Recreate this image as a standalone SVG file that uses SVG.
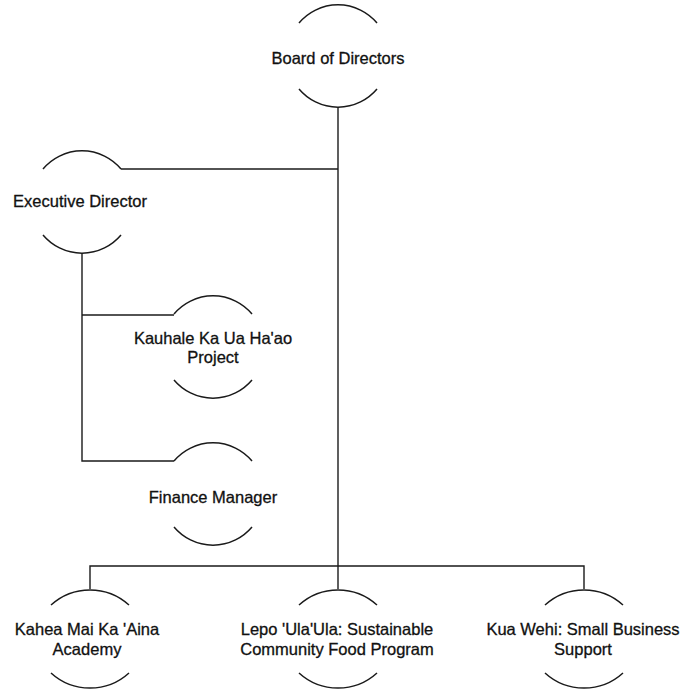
<svg xmlns="http://www.w3.org/2000/svg" width="680" height="694" viewBox="0 0 680 694">
<style>
  .arc { fill: none; stroke: #1a1a1a; stroke-width: 1.5; }
  .conn { fill: none; stroke: #1a1a1a; stroke-width: 1.4; }
  .lbl { font-family: "Liberation Sans", Arial, sans-serif; font-size: 16.5px; fill: #111; stroke: #111; stroke-width: 0.3; text-anchor: middle; }
</style>
<rect width="680" height="694" fill="#ffffff"/>
<g id="connectors">
  <path class="conn" d="M338 107 V589"/>
  <path class="conn" d="M121 169 H338"/>
  <path class="conn" d="M82 253 V461 H174"/>
  <path class="conn" d="M82 315 H174"/>
  <path class="conn" d="M90 589 V566 H584 V589"/>
</g>
<g id="board">
  <path class="arc" d="M299 23 A51 51 0 0 1 377 23"/>
  <path class="arc" d="M299 89 A51 51 0 0 0 377 89"/>
  <text class="lbl" x="338" y="64">Board of Directors</text>
</g>
<g id="executive">
  <path class="arc" d="M43 169 A51 51 0 0 1 121 169"/>
  <path class="arc" d="M43 235 A51 51 0 0 0 121 235"/>
  <text class="lbl" x="80" y="207">Executive Director</text>
</g>
<g id="kauhale">
  <path class="arc" d="M174 314 A51 51 0 0 1 252 314"/>
  <path class="arc" d="M174 380 A51 51 0 0 0 252 380"/>
  <text class="lbl" x="213" y="344">Kauhale Ka Ua Ha'ao</text>
  <text class="lbl" x="213" y="363">Project</text>
</g>
<g id="finance">
  <path class="arc" d="M174 461 A51 51 0 0 1 252 461"/>
  <path class="arc" d="M174 527 A51 51 0 0 0 252 527"/>
  <text class="lbl" x="213" y="503">Finance Manager</text>
</g>
<g id="kahea">
  <path class="arc" d="M51 605 A58 58 0 0 1 129 605"/>
  <path class="arc" d="M51 673 A58 58 0 0 0 129 673"/>
  <text class="lbl" x="87" y="635">Kahea Mai Ka 'Aina</text>
  <text class="lbl" x="87" y="655">Academy</text>
</g>
<g id="lepo">
  <path class="arc" d="M299 605 A58 58 0 0 1 377 605"/>
  <path class="arc" d="M299 673 A58 58 0 0 0 377 673"/>
  <text class="lbl" x="337" y="635">Lepo 'Ula'Ula: Sustainable</text>
  <text class="lbl" x="337" y="655">Community Food Program</text>
</g>
<g id="kuawehi">
  <path class="arc" d="M545 605 A58 58 0 0 1 623 605"/>
  <path class="arc" d="M545 673 A58 58 0 0 0 623 673"/>
  <text class="lbl" x="583" y="635">Kua Wehi: Small Business</text>
  <text class="lbl" x="583" y="655">Support</text>
</g>
</svg>
